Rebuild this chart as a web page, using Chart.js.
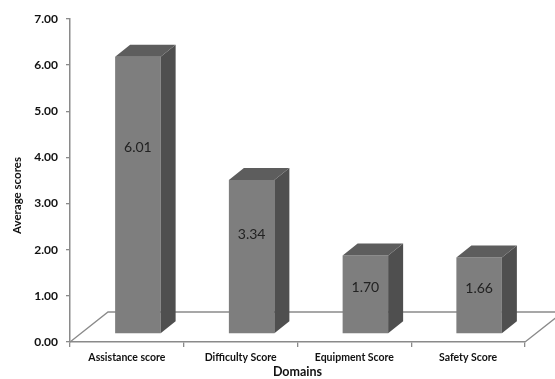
<!DOCTYPE html>
<html>
<head>
<meta charset="utf-8">
<script src="https://cdn.jsdelivr.net/npm/chart.js@4/dist/chart.umd.min.js"></script>
<style>
  html, body { margin: 0; padding: 0; background: #ffffff; }
  #wrap { width: 555px; height: 379px; position: relative; }
</style>
</head>
<body>
<div id="wrap"><canvas id="chart" width="555" height="379"></canvas></div>
<script>
// Average score per domain
const categories = ['Assistance score', 'Difficulty Score', 'Equipment Score', 'Safety Score'];
const averageScores = [6.01, 3.34, 1.70, 1.66];
const yMin = 0;
const yMax = 7;
const yStep = 1;
const yTitle = 'Average scores';
const xTitle = 'Domains';

// 3D look: front face pushed into the floor, plus bar depth
const FRONT = { dx: 11, dy: -8 };
const DEPTH = { dx: 15, dy: -12 };
const FLOOR = { dx: 38, dy: -30 };
const LINE = '#8a8a8a';
const TEXT = '#111111';

Chart.defaults.font.family = 'Lato, "Open Sans", "DejaVu Sans", sans-serif';

const box3d = {
  id: 'box3d',
  beforeDatasetsDraw(chart) {
    const { ctx, chartArea: a } = chart;
    ctx.save();
    ctx.strokeStyle = LINE;
    ctx.lineWidth = 1.3;
    ctx.beginPath();
    ctx.moveTo(a.left, a.bottom);
    ctx.lineTo(a.left + FLOOR.dx, a.bottom + FLOOR.dy);
    ctx.lineTo(a.right + FLOOR.dx, a.bottom + FLOOR.dy);
    ctx.lineTo(a.right, a.bottom);
    ctx.stroke();
    ctx.restore();
  },
  beforeDatasetDraw(chart) {
    chart.ctx.save();
    chart.ctx.translate(FRONT.dx, FRONT.dy);
  },
  afterDatasetDraw(chart, args) {
    const ctx = chart.ctx;
    args.meta.data.forEach((el) => {
      const p = el.getProps(['x', 'y', 'base', 'width'], true);
      const l = p.x - p.width / 2, r = p.x + p.width / 2;
      // side face
      ctx.fillStyle = '#4f4f4f';
      ctx.beginPath();
      ctx.moveTo(r, p.y);
      ctx.lineTo(r + DEPTH.dx, p.y + DEPTH.dy);
      ctx.lineTo(r + DEPTH.dx, p.base + DEPTH.dy);
      ctx.lineTo(r, p.base);
      ctx.closePath();
      ctx.fill();
      // top face
      ctx.fillStyle = '#5d5d5d';
      ctx.beginPath();
      ctx.moveTo(l, p.y);
      ctx.lineTo(l + DEPTH.dx, p.y + DEPTH.dy);
      ctx.lineTo(r + DEPTH.dx, p.y + DEPTH.dy);
      ctx.lineTo(r, p.y);
      ctx.closePath();
      ctx.fill();
    });
    ctx.restore();
  },
  afterDatasetsDraw(chart) {
    const { ctx } = chart;
    const yScale = chart.scales.y;
    const meta = chart.getDatasetMeta(0);
    ctx.save();
    ctx.fillStyle = '#222222';
    ctx.font = '14px Lato, "Open Sans", sans-serif';
    ctx.textAlign = 'center';
    ctx.textBaseline = 'middle';
    meta.data.forEach((el, i) => {
      const v = averageScores[i];
      ctx.fillText(v.toFixed(2), el.x + FRONT.dx, yScale.getPixelForValue(v * 0.7));
    });
    ctx.restore();
  },
  afterDraw(chart) {
    const { ctx, chartArea: a } = chart;
    ctx.save();
    ctx.translate(17, (a.top + a.bottom) / 2 + 15);
    ctx.rotate(-Math.PI / 2);
    ctx.fillStyle = TEXT;
    ctx.font = 'bold 11.5px Lato, "Open Sans", sans-serif';
    ctx.textAlign = 'center';
    ctx.textBaseline = 'middle';
    ctx.fillText(yTitle, 0, 0);
    ctx.restore();
  }
};

new Chart(document.getElementById('chart'), {
  type: 'bar',
  data: {
    labels: categories,
    datasets: [{
      data: averageScores,
      backgroundColor: '#7e7e7e',
      borderWidth: 0,
      barPercentage: 0.4,
      categoryPercentage: 1,
      clip: false
    }]
  },
  options: {
    responsive: false,
    animation: false,
    devicePixelRatio: 1,
    layout: { padding: { top: 19, right: 30, left: 0, bottom: 0 } },
    plugins: { legend: { display: false }, tooltip: { enabled: false } },
    scales: {
      x: {
        offset: true,
        grid: { offset: true, drawOnChartArea: false, drawTicks: true, tickLength: 5, color: LINE, lineWidth: 1.3 },
        border: { color: LINE, width: 1.5 },
        ticks: { color: TEXT, font: { size: 10.5, weight: 'bold' }, padding: 4, maxRotation: 0 },
        title: { display: true, text: xTitle, color: TEXT, font: { size: 12.5, weight: 'bold' }, padding: { top: 0, bottom: 0 } },
        afterFit(s) { s.height = 37; s.paddingLeft = 0; s.paddingRight = 0; }
      },
      y: {
        min: yMin,
        max: yMax,
        grid: { drawOnChartArea: false, drawTicks: true, tickLength: 4, color: LINE, lineWidth: 1.3 },
        border: { color: LINE, width: 1.5 },
        ticks: {
          stepSize: yStep,
          color: TEXT,
          font: { size: 12, weight: 'bold' },
          padding: 8,
          callback: (v) => Number(v).toFixed(2)
        },
        afterFit(s) { s.width = 70; s.paddingTop = 0; s.paddingBottom = 0; }
      }
    }
  },
  plugins: [box3d]
});
</script>
</body>
</html>
